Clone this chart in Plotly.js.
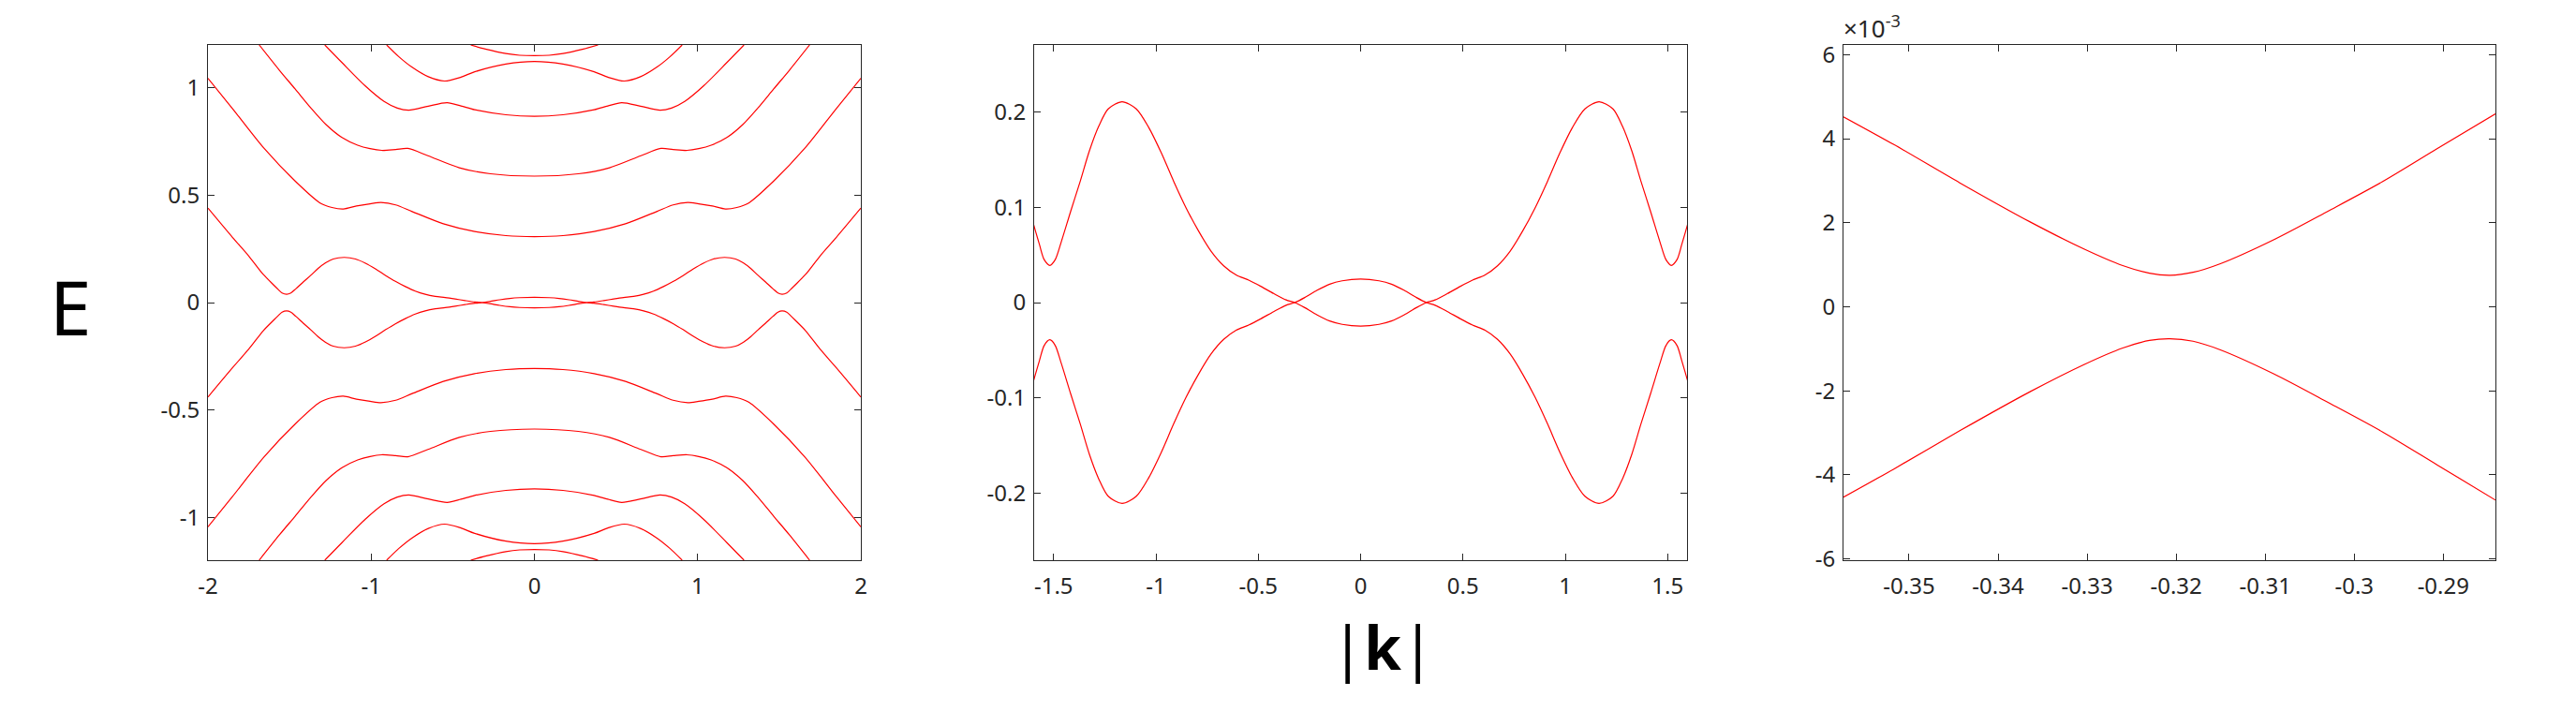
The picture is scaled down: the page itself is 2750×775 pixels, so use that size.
<!DOCTYPE html>
<html>
<head>
<meta charset="utf-8">
<script src="https://cdn.plot.ly/plotly-3.0.1.min.js"></script>
<style>
  html, body { margin: 0; padding: 0; background: #fff; }
  #bands { width: 2750px; height: 775px; }
</style>
</head>
<body>
<div id="bands"></div>
<script>
// band energies E(|k|) (left panel: full range, middle: zoom on the gap band)
var bandA_k = [-2.0, -1.85, -1.75, -1.66, -1.596, -1.569, -1.546, -1.518, -1.492, -1.462, -1.416, -1.37, -1.325, -1.279, -1.233, -1.165, -1.096, -1.035, -0.974, -0.913, -0.852, -0.791, -0.73, -0.669, -0.608, -0.547, -0.486, -0.425, -0.364, -0.322, -0.273, -0.212, -0.151, -0.09, 0,
  0.09, 0.151, 0.212, 0.273, 0.322, 0.364, 0.425, 0.486, 0.547, 0.608, 0.669, 0.73, 0.791, 0.852, 0.913, 0.974, 1.035, 1.096, 1.165, 1.233, 1.279, 1.325, 1.37, 1.416, 1.462, 1.492, 1.518, 1.546, 1.569, 1.596, 1.66, 1.75, 1.85, 2.0];
var bandA_E = [0.44, 0.304, 0.217, 0.130, 0.0807, 0.0607, 0.045, 0.039, 0.045, 0.064, 0.096, 0.127, 0.159, 0.185, 0.203, 0.2105, 0.203, 0.1835, 0.157, 0.127, 0.099, 0.0747, 0.0537, 0.0386, 0.029, 0.0235, 0.0168, 0.0095, 0.0028, 0, -0.0053, -0.013, -0.0193, -0.0228, -0.0246,
  -0.0228, -0.0193, -0.013, -0.0053, 0, 0.0028, 0.0095, 0.0168, 0.0235, 0.029, 0.0386, 0.0537, 0.0747, 0.099, 0.127, 0.157, 0.1835, 0.203, 0.2105, 0.203, 0.185, 0.159, 0.127, 0.096, 0.064, 0.045, 0.039, 0.045, 0.0607, 0.0807, 0.130, 0.217, 0.304, 0.44];
var bandAm_E = [-0.44, -0.304, -0.217, -0.130, -0.0807, -0.0607, -0.045, -0.039, -0.045, -0.064, -0.096, -0.127, -0.159, -0.185, -0.203, -0.2105, -0.203, -0.1835, -0.157, -0.127, -0.099, -0.0747, -0.0537, -0.0386, -0.029, -0.0235, -0.0168, -0.0095, -0.0028, 0, 0.0053, 0.013, 0.0193, 0.0228, 0.0246,
  0.0228, 0.0193, 0.013, 0.0053, 0, -0.0028, -0.0095, -0.0168, -0.0235, -0.029, -0.0386, -0.0537, -0.0747, -0.099, -0.127, -0.157, -0.1835, -0.203, -0.2105, -0.203, -0.185, -0.159, -0.127, -0.096, -0.064, -0.045, -0.039, -0.045, -0.0607, -0.0807, -0.130, -0.217, -0.304, -0.44];

var bandB_k = [-2.0, -1.849, -1.657, -1.466, -1.313, -1.24, -1.17, -1.09, -1.007, -0.94, -0.85, -0.749, -0.558, -0.366, -0.175, 0,
  0.175, 0.366, 0.558, 0.749, 0.85, 0.94, 1.007, 1.09, 1.17, 1.24, 1.313, 1.466, 1.657, 1.849, 2.0];
var bandB_E = [1.045, 0.903, 0.719, 0.566, 0.464, 0.443, 0.436, 0.450, 0.460, 0.466, 0.455, 0.424, 0.367, 0.331, 0.312, 0.307,
  0.312, 0.331, 0.367, 0.424, 0.455, 0.466, 0.460, 0.450, 0.436, 0.443, 0.464, 0.566, 0.719, 0.903, 1.045];
var bandBm_E = [-1.045, -0.903, -0.719, -0.566, -0.464, -0.443, -0.436, -0.450, -0.460, -0.466, -0.455, -0.424, -0.367, -0.331, -0.312, -0.307,
  -0.312, -0.331, -0.367, -0.424, -0.455, -0.466, -0.460, -0.450, -0.436, -0.443, -0.464, -0.566, -0.719, -0.903, -1.045];

var bandC_k = [-1.686, -1.562, -1.466, -1.37, -1.275, -1.179, -1.083, -1.007, -0.935, -0.85, -0.775, -0.652, -0.46, -0.269, 0,
  0.269, 0.46, 0.652, 0.775, 0.85, 0.935, 1.007, 1.083, 1.179, 1.275, 1.37, 1.466, 1.562, 1.686];
var bandC_E = [1.2, 1.082, 0.995, 0.907, 0.828, 0.769, 0.733, 0.717, 0.709, 0.713, 0.718, 0.684, 0.628, 0.600, 0.589,
  0.600, 0.628, 0.684, 0.718, 0.713, 0.709, 0.717, 0.733, 0.769, 0.828, 0.907, 0.995, 1.082, 1.2];
var bandCm_E = [-1.2, -1.082, -0.995, -0.907, -0.828, -0.769, -0.733, -0.717, -0.709, -0.713, -0.718, -0.684, -0.628, -0.600, -0.589,
  -0.600, -0.628, -0.684, -0.718, -0.713, -0.709, -0.717, -0.733, -0.769, -0.828, -0.907, -0.995, -1.082, -1.2];

var bandD_k = [-1.284, -1.179, -1.036, -0.921, -0.84, -0.77, -0.65, -0.535, -0.45, -0.366, -0.175, 0,
  0.175, 0.366, 0.45, 0.535, 0.65, 0.77, 0.84, 0.921, 1.036, 1.179, 1.284];
var bandD_E = [1.2, 1.118, 1.009, 0.937, 0.906, 0.896, 0.915, 0.931, 0.916, 0.898, 0.875, 0.868,
  0.875, 0.898, 0.916, 0.931, 0.915, 0.896, 0.906, 0.937, 1.009, 1.118, 1.2];
var bandDm_E = [-1.2, -1.118, -1.009, -0.937, -0.906, -0.896, -0.915, -0.931, -0.916, -0.898, -0.875, -0.868,
  -0.875, -0.898, -0.916, -0.931, -0.915, -0.896, -0.906, -0.937, -1.009, -1.118, -1.2];

var bandE_k = [-0.905, -0.83, -0.749, -0.65, -0.55, -0.45, -0.366, -0.175, 0,
  0.175, 0.366, 0.45, 0.55, 0.65, 0.749, 0.83, 0.905];
var bandE_E = [1.2, 1.145, 1.096, 1.052, 1.032, 1.05, 1.075, 1.111, 1.123,
  1.111, 1.075, 1.05, 1.032, 1.052, 1.096, 1.145, 1.2];
var bandEm_E = [-1.2, -1.145, -1.096, -1.052, -1.032, -1.05, -1.075, -1.111, -1.123,
  -1.111, -1.075, -1.05, -1.032, -1.052, -1.096, -1.145, -1.2];

var bandF_k = [-0.39, -0.3, -0.175, -0.09, 0, 0.09, 0.175, 0.3, 0.39];
var bandF_E = [1.2, 1.181, 1.16, 1.152, 1.15, 1.152, 1.16, 1.181, 1.2];
var bandFm_E = [-1.2, -1.181, -1.16, -1.152, -1.15, -1.152, -1.16, -1.181, -1.2];

// right panel: avoided crossing near |k| = -0.321, energies in units of 1e-3
var gap_k = [-0.35736, -0.3517, -0.3443, -0.3364, -0.3303, -0.326, -0.323, -0.3207, -0.3181, -0.3151, -0.309, -0.3029, -0.2968, -0.2907, -0.28414];
var gapUp_E = [4.52, 3.86, 2.95, 2.02, 1.37, 0.98, 0.80, 0.75, 0.82, 1.02, 1.60, 2.28, 2.98, 3.76, 4.59];
var gapLo_E = [-4.53, -3.86, -2.95, -2.02, -1.37, -0.98, -0.80, -0.76, -0.82, -1.02, -1.60, -2.28, -2.98, -3.76, -4.60];

// tick labels
var p1_kTicks = [-2, -1, 0, 1, 2];
var p1_kText = ['-2', '-1', '0', '1', '2'];
var p1_ETicks = [-1, -0.5, 0, 0.5, 1];
var p1_EText = ['-1', '-0.5', '0', '0.5', '1'];
var p2_kTicks = [-1.5, -1, -0.5, 0, 0.5, 1, 1.5];
var p2_kText = ['-1.5', '-1', '-0.5', '0', '0.5', '1', '1.5'];
var p2_ETicks = [-0.2, -0.1, 0, 0.1, 0.2];
var p2_EText = ['-0.2', '-0.1', '0', '0.1', '0.2'];
var p3_kTicks = [-0.35, -0.34, -0.33, -0.32, -0.31, -0.3, -0.29];
var p3_kText = ['-0.35', '-0.34', '-0.33', '-0.32', '-0.31', '-0.3', '-0.29'];
var p3_ETicks = [-6, -4, -2, 0, 2, 4, 6];
var p3_EText = ['-6', '-4', '-2', '0', '2', '4', '6'];

var W = 2750, H = 775;

function line(k, e, xa, ya){
	return {
	  x: k, y: e, xaxis: xa, yaxis: ya,
	  type: 'scatter', mode: 'lines',
	  line: {color: '#ff0000', width: 1.2, shape: 'spline', smoothing: 0.8},
	  hoverinfo: 'skip'
	};
}

function axis(p0, p1, horiz, anchor, range, tv, tt){
	var dom = horiz ? [p0 / W, p1 / W] : [1 - p1 / H, 1 - p0 / H];
	return {
	  domain: dom, anchor: anchor, range: range, autorange: false,
	  tickmode: 'array', tickvals: tv, ticktext: tt,
	  showline: true, linecolor: '#262626', linewidth: 1, mirror: 'ticks',
	  ticks: 'inside', ticklen: 7, tickwidth: 1, tickcolor: '#262626',
	  ticklabelstandoff: horiz ? 6 : 3,
	  showgrid: false, zeroline: false, fixedrange: true,
	  tickfont: {family: 'Noto Sans', size: 24, color: '#262626'}
	};
}

function draw(){
	var data = [
	  line(bandA_k, bandA_E, 'x', 'y'), line(bandA_k, bandAm_E, 'x', 'y'),
	  line(bandB_k, bandB_E, 'x', 'y'), line(bandB_k, bandBm_E, 'x', 'y'),
	  line(bandC_k, bandC_E, 'x', 'y'), line(bandC_k, bandCm_E, 'x', 'y'),
	  line(bandD_k, bandD_E, 'x', 'y'), line(bandD_k, bandDm_E, 'x', 'y'),
	  line(bandE_k, bandE_E, 'x', 'y'), line(bandE_k, bandEm_E, 'x', 'y'),
	  line(bandF_k, bandF_E, 'x', 'y'), line(bandF_k, bandFm_E, 'x', 'y'),
	  line(bandA_k, bandA_E, 'x2', 'y2'), line(bandA_k, bandAm_E, 'x2', 'y2'),
	  line(gap_k, gapUp_E, 'x3', 'y3'), line(gap_k, gapLo_E, 'x3', 'y3')
	];
	var top = 48, bot = 598;
	var layout = {
	  width: W, height: H,
	  margin: {l: 0, r: 0, t: 0, b: 0},
	  paper_bgcolor: '#ffffff', plot_bgcolor: '#ffffff',
	  showlegend: false,
	  font: {family: 'Noto Sans', color: '#262626'},
	  xaxis: axis(222, 919, true, 'y', [-2, 2], p1_kTicks, p1_kText),
	  yaxis: axis(top, bot, false, 'x', [-1.2, 1.2], p1_ETicks, p1_EText),
	  xaxis2: axis(1104, 1801, true, 'y2', [-1.595, 1.595], p2_kTicks, p2_kText),
	  yaxis2: axis(top, bot, false, 'x2', [-0.27, 0.27], p2_ETicks, p2_EText),
	  xaxis3: axis(1968, 2664, true, 'y3', [-0.35736, -0.28414], p3_kTicks, p3_kText),
	  yaxis3: axis(top, bot, false, 'x3', [-6.03, 6.23], p3_ETicks, p3_EText),
	  annotations: [
	    {text: 'E', xref: 'paper', yref: 'paper', x: 75 / W, y: 1 - 327 / H,
	     xanchor: 'center', yanchor: 'middle', showarrow: false,
	     font: {family: 'Noto Sans', size: 80, color: '#000000'}},
	    {text: '|<b>k</b>|', xref: 'paper', yref: 'paper', x: 1476 / W, y: 1 - 690 / H,
	     xanchor: 'center', yanchor: 'middle', showarrow: false,
	     font: {family: 'Noto Sans', size: 64, color: '#000000'}},
	    {text: '×10<sup>-3</sup>', xref: 'paper', yref: 'paper', x: 1966 / W, y: 1 - 50 / H,
	     xanchor: 'left', yanchor: 'bottom', showarrow: false,
	     font: {family: 'Noto Sans', size: 26, color: '#262626'}}
	  ]
	};
	Plotly.newPlot('bands', data, layout, {staticPlot: true});
}
draw();
</script>
</body>
</html>
